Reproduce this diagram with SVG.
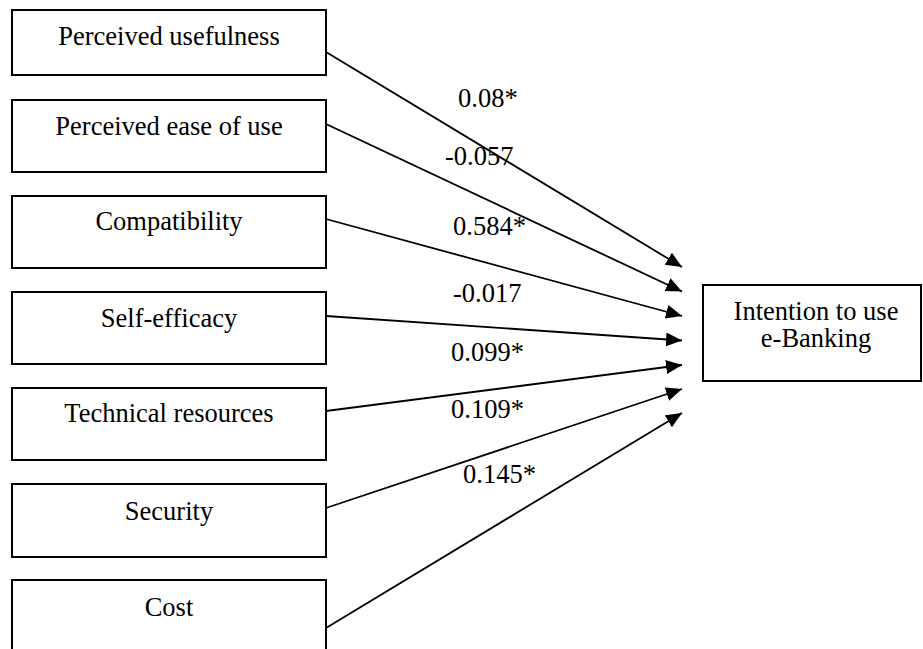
<svg xmlns="http://www.w3.org/2000/svg" width="923" height="649" viewBox="0 0 923 649">
<style>
.box{fill:#fff;stroke:#000;stroke-width:2}
.t{font-family:"Liberation Serif","Times New Roman",serif;font-size:26.5px;fill:#000}
.c{text-anchor:middle}
.edge{stroke:#000;stroke-width:1.8;fill:none;marker-end:url(#ah)}
</style>
<defs>
<marker id="ah" markerUnits="userSpaceOnUse" markerWidth="17" markerHeight="15" refX="16" refY="7" orient="auto">
<path d="M0,0 L16,7 L0,14 z" fill="#000"/>
</marker>
</defs>
<rect width="923" height="649" fill="#fff"/>
<g id="connectors">
<line class="edge" x1="326" y1="52" x2="682" y2="267"/>
<line class="edge" x1="326" y1="124" x2="682" y2="291.5"/>
<line class="edge" x1="326" y1="219" x2="682" y2="316"/>
<line class="edge" x1="326" y1="316" x2="682" y2="340.5"/>
<line class="edge" x1="326" y1="411" x2="682" y2="365"/>
<line class="edge" x1="326" y1="508" x2="682" y2="389"/>
<line class="edge" x1="326" y1="628" x2="682" y2="413"/>
</g>
<g id="labels">
<text class="t" x="458" y="107">0.08*</text>
<text class="t" x="445" y="165">-0.057</text>
<text class="t" x="453" y="235">0.584*</text>
<text class="t" x="453" y="302">-0.017</text>
<text class="t" x="451" y="361">0.099*</text>
<text class="t" x="451" y="418">0.109*</text>
<text class="t" x="463" y="483">0.145*</text>
</g>
<g id="n1"><rect class="box" x="12" y="10" width="314" height="65"/><text class="t c" x="169" y="45">Perceived usefulness</text></g>
<g id="n2"><rect class="box" x="12" y="100" width="314" height="72"/><text class="t c" x="169" y="135">Perceived ease of use</text></g>
<g id="n3"><rect class="box" x="12" y="196" width="314" height="72"/><text class="t c" x="169" y="230">Compatibility</text></g>
<g id="n4"><rect class="box" x="12" y="292" width="314" height="72"/><text class="t c" x="169" y="327">Self-efficacy</text></g>
<g id="n5"><rect class="box" x="12" y="388" width="314" height="72"/><text class="t c" x="169" y="422">Technical resources</text></g>
<g id="n6"><rect class="box" x="12" y="484" width="314" height="73"/><text class="t c" x="169" y="520">Security</text></g>
<g id="n7"><rect class="box" x="12" y="580" width="314" height="80"/><text class="t c" x="169" y="616">Cost</text></g>
<g id="n8"><rect class="box" x="703" y="285" width="218" height="96"/><text class="t c" x="816" y="320">Intention to use</text><text class="t c" x="816" y="347">e-Banking</text></g>
</svg>
